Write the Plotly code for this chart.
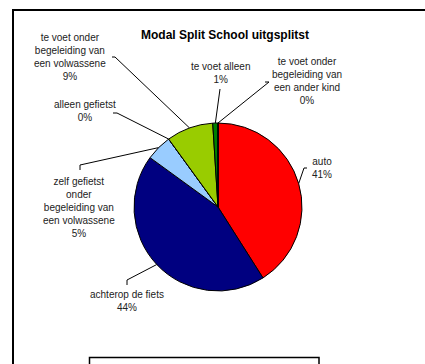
import math
import plotly.graph_objects as go

W, H = 425, 364

# Modal split data (percent)
categories = [
    "auto",
    "achterop de fiets",
    "zelf gefietst onder begeleiding van een volwassene",
    "alleen gefietst",
    "te voet onder begeleiding van een volwassene",
    "te voet alleen",
    "te voet onder begeleiding van een ander kind",
]
values = [41, 44, 5, 0, 9, 1, 0]
label_lines = [
    ["auto"],
    ["achterop de fiets"],
    ["zelf gefietst", "onder", "begeleiding van", "een volwassene"],
    ["alleen gefietst"],
    ["te voet onder", "begeleiding van", "een volwassene"],
    ["te voet alleen"],
    ["te voet onder", "begeleiding van", "een ander kind"],
]
colors = ["#FF0000", "#000080", "#99CCFF", "#FFFF99", "#99CC00", "#008000", "#CC99FF"]

# Layout of the pie in pixels
CX, CY, R = 218, 207, 84

# label text centre, leader elbow and leader end (pixels)
label_pos = [(322, 168), (127, 301), (79, 207), (85, 111), (70, 57), (221, 73), (307, 81)]
elbows = [(304, 168), (127, 280), (80, 165), (117, 113), (115, 57), (220, 89), (269, 82)]
ends = [(307, 168), (127, 285), (80, 170), (113, 113), (112, 57), (220, 89), (265, 82)]


def px(x):
    return x / W


def py(y):
    return 1 - y / H


fig = go.Figure(go.Pie(
    labels=categories,
    values=values,
    sort=False,
    direction="clockwise",
    rotation=0,
    marker=dict(colors=colors, line=dict(color="black", width=1)),
    textinfo="none",
    hoverinfo="label+percent",
    showlegend=False,
    domain=dict(x=[px(CX - R), px(CX + R)], y=[py(CY + R), py(CY - R)]),
))

total = sum(values)
shapes = []
annotations = []
cum = 0.0
for i, v in enumerate(values):
    mid = (cum + v / 2) / total
    cum += v
    ang = 2 * math.pi * mid
    ax = CX + R * math.sin(ang)
    ay = CY - R * math.cos(ang)
    ex, ey = elbows[i]
    tx, ty = ends[i]
    for (x0, y0, x1, y1) in [(ax, ay, ex, ey), (ex, ey, tx, ty)]:
        shapes.append(dict(type="line", xref="paper", yref="paper",
                           x0=px(x0), y0=py(y0), x1=px(x1), y1=py(y1),
                           line=dict(color="black", width=1)))
    pct = f"{round(100 * v / total)}%"
    lx, ly = label_pos[i]
    annotations.append(dict(
        x=px(lx), y=py(ly), xref="paper", yref="paper",
        text="<br>".join(label_lines[i] + [pct]),
        showarrow=False, xanchor="center", yanchor="middle", align="center",
        font=dict(family="Arial, Liberation Sans, sans-serif", size=10, color="#222222"),
    ))

annotations.append(dict(
    x=px(225), y=py(35), xref="paper", yref="paper",
    text="<b>Modal Split School uitgsplitst</b>", showarrow=False,
    xanchor="center", yanchor="middle",
    font=dict(family="Arial, Liberation Sans, sans-serif", size=12, color="black"),
))

# chart area frame and legend box
shapes.append(dict(type="rect", xref="paper", yref="paper",
                   x0=px(13), y0=py(H + 10), x1=px(W + 10), y1=py(10),
                   line=dict(color="black", width=2)))
shapes.append(dict(type="rect", xref="paper", yref="paper",
                   x0=px(89.5), y0=py(H + 10), x1=px(319), y1=py(357.5),
                   line=dict(color="black", width=1.5)))

fig.update_layout(
    width=W, height=H,
    margin=dict(l=0, r=0, t=0, b=0),
    paper_bgcolor="white", plot_bgcolor="white",
    shapes=shapes, annotations=annotations,
)

fig.write_html("out.html")
